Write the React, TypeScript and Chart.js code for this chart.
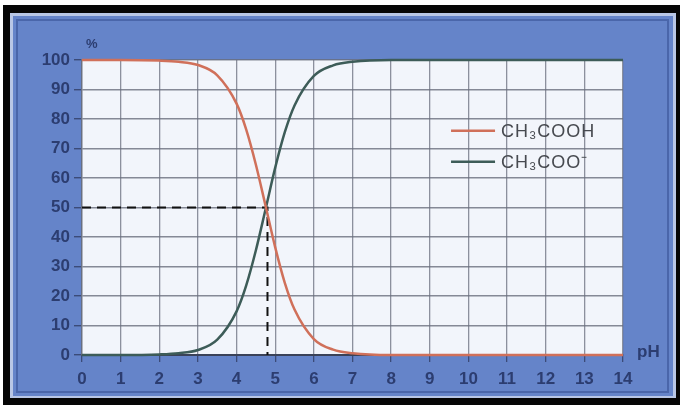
import { useEffect, useRef } from 'react';
import { Chart, registerables } from 'chart.js';
Chart.register(...registerables);

// pH values at which the curves were read
const PH = [0, 1, 2, 2.5, 3, 3.5, 4, 4.25, 4.5, 4.75, 5, 5.25, 5.5, 6, 6.5, 7, 8, 9, 10, 11, 12, 13, 14];
// CH3COOH share (%)
const ACID = [100, 100, 99.8, 99.4, 98.3, 94.8, 85.2, 76.4, 64.5, 50.6, 36.5, 24.4, 15.4, 5.4, 1.8, 0.6, 0, 0, 0, 0, 0, 0, 0];
// CH3COO- share (%)
const BASE = [0, 0, 0.2, 0.6, 1.7, 5.2, 14.8, 23.6, 35.5, 49.4, 63.5, 75.6, 84.6, 94.6, 98.2, 99.4, 100, 100, 100, 100, 100, 100, 100];
// crossing point (pKa)
const CROSS_PH = 4.8;
const CROSS_PCT = 50;
const SERIES = ['CH₃COOH', 'CH₃COO⁻'];
const X_MIN = 0, X_MAX = 14, X_STEP = 1;
const Y_MIN = 0, Y_MAX = 100, Y_STEP = 10;
const X_TITLE = 'pH';
const Y_TITLE = '%';

const FONT = "'Liberation Sans', Arial, sans-serif";
const LABEL = '#2c3d70';
const RED = '#d0705a';
const TEAL = '#3d5c58';

export default function App() {
  const ref = useRef<HTMLCanvasElement>(null);
  useEffect(() => {
    document.body.style.margin = '0';
    const bg = {
      id: 'bg',
      beforeDraw(chart: any) {
        const { ctx, chartArea: a } = chart;
        ctx.save();
        ctx.fillStyle = '#ffffff';
        ctx.fillRect(0, 0, 680, 405);
        ctx.fillStyle = '#060606';
        ctx.fillRect(3, 5, 677, 400);
        ctx.fillStyle = '#b9c7e6';
        ctx.fillRect(10, 13, 666, 385);
        ctx.fillStyle = '#6584c9';
        ctx.fillRect(13, 16, 660, 380);
        ctx.strokeStyle = '#4a66aa';
        ctx.lineWidth = 2;
        ctx.strokeRect(17, 20, 651, 372);
        ctx.fillStyle = '#f2f5fb';
        ctx.fillRect(a.left, a.top, a.right - a.left, a.bottom - a.top);
        ctx.restore();
      },
    };
    const deco = {
      id: 'deco',
      afterDraw(chart: any) {
        const { ctx, chartArea: a, scales } = chart;
        ctx.save();
        ctx.fillStyle = LABEL;
        ctx.font = `bold 17px ${FONT}`;
        ctx.textAlign = 'left';
        ctx.textBaseline = 'middle';
        ctx.fillText(X_TITLE, a.right + 14, a.bottom - 3);
        ctx.font = `bold 13px ${FONT}`;
        ctx.fillText(Y_TITLE, a.left + 4, a.top - 16);
        // legend
        const sets = chart.data.datasets.filter((d: any) => SERIES.includes(d.label));
        const lx = scales.x.getPixelForValue(9.55);
        const ly0 = scales.y.getPixelForValue(76);
        const ly1 = scales.y.getPixelForValue(65.5);
        sets.forEach((d: any, i: number) => {
          const y = i === 0 ? ly0 : ly1;
          ctx.strokeStyle = d.borderColor;
          ctx.lineWidth = 2.5;
          ctx.beginPath();
          ctx.moveTo(lx, y);
          ctx.lineTo(lx + 44, y);
          ctx.stroke();
          ctx.fillStyle = '#474a50';
          ctx.font = `18px ${FONT}`;
          (ctx as any).letterSpacing = '1px';
          ctx.textBaseline = 'middle';
          ctx.fillText(d.label, lx + 50, y + 1);
          (ctx as any).letterSpacing = '0px';
        });
        ctx.restore();
      },
    };
    const chart = new Chart(ref.current!, {
      type: 'line',
      data: {
        datasets: [
          {
            label: SERIES[0],
            data: PH.map((x, i) => ({ x, y: ACID[i] })),
            borderColor: RED,
            borderWidth: 2.5,
            pointRadius: 0,
            cubicInterpolationMode: 'monotone',
            clip: false,
          },
          {
            label: SERIES[1],
            data: PH.map((x, i) => ({ x, y: BASE[i] })),
            borderColor: TEAL,
            borderWidth: 2.5,
            pointRadius: 0,
            cubicInterpolationMode: 'monotone',
            clip: false,
          },
          {
            label: '',
            data: [
              { x: X_MIN, y: CROSS_PCT },
              { x: CROSS_PH, y: CROSS_PCT },
              { x: CROSS_PH, y: Y_MIN },
            ],
            borderColor: '#111111',
            borderWidth: 2,
            borderDash: [9, 6],
            pointRadius: 0,
            tension: 0,
            clip: false,
          },
        ],
      } as any,
      options: {
        animation: false,
        responsive: false,
        devicePixelRatio: 1,
        layout: { padding: { left: 0, right: 57, top: 60, bottom: 0 } },
        plugins: { legend: { display: false }, tooltip: { enabled: false } },
        scales: {
          x: {
            type: 'linear',
            min: X_MIN,
            max: X_MAX,
            afterFit: (s: any) => { s.height = 50; },
            ticks: { stepSize: X_STEP, color: LABEL, font: { family: FONT, size: 17, weight: 'bold' }, padding: 7 },
            grid: { color: 'rgba(105,110,125,0.75)', lineWidth: 1.3, tickLength: 7, tickColor: '#3b4b78' },
            border: { color: '#3a4258', width: 2 },
          },
          y: {
            type: 'linear',
            min: Y_MIN,
            max: Y_MAX,
            afterFit: (s: any) => { s.width = 82; },
            ticks: { stepSize: Y_STEP, color: LABEL, font: { family: FONT, size: 17, weight: 'bold' }, padding: 4 },
            grid: { color: 'rgba(105,110,125,0.8)', lineWidth: 1.4, tickLength: 8, tickColor: '#3b4b78' },
            border: { color: 'rgba(105,110,125,0.8)', width: 1.4 },
          },
        },
      } as any,
      plugins: [bg, deco],
    });
    return () => chart.destroy();
  }, []);
  return <canvas ref={ref} width={680} height={405} style={{ display: 'block' }} />;
}
